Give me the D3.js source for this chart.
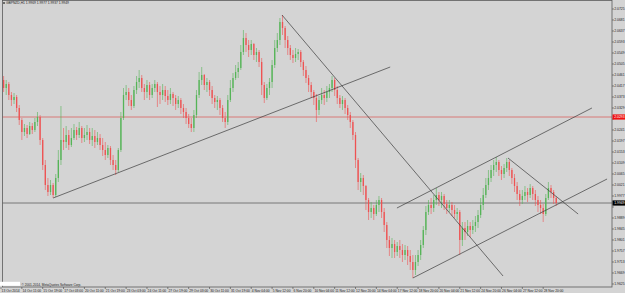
<!DOCTYPE html>
<html>
<head>
<meta charset="utf-8">
<script src="https://cdn.jsdelivr.net/npm/d3@7"></script>
<style>
html, body { margin: 0; padding: 0; background: #d4d4d4; overflow: hidden; }
svg { display: block; }
text { font-family: "Liberation Sans", Arial, sans-serif; }
</style>
</head>
<body>
<div id="chart"></div>
<script>
// GBPNZD candles, one per 4 hours (13 Oct - 1 Dec 2014)
const opens = [
  2.0473, 2.0441, 2.0409, 2.0425, 2.0381, 2.0361, 2.0373, 2.0329,
  2.0281, 2.0233, 2.0249, 2.0225, 2.0257, 2.0241, 2.0273, 2.0293,
  2.0201, 2.0101, 2.0021, 1.9993, 2.0021, 1.9981, 2.0049, 2.0121,
  2.0201, 2.0193, 2.0221, 2.0181, 2.0209, 2.0241, 2.0221, 2.0249,
  2.0209, 2.0221, 2.0233, 2.0201, 2.0217, 2.0193, 2.0209, 2.0181,
  2.0161, 2.0141, 2.0169, 2.0121, 2.0101, 2.0081, 2.0161, 2.0289,
  2.0381, 2.0393, 2.0361, 2.0337, 2.0401, 2.0433, 2.0449, 2.0409,
  2.0393, 2.0421, 2.0381, 2.0409, 2.0425, 2.0393, 2.0381, 2.0401,
  2.0377, 2.0361, 2.0385, 2.0369, 2.0345, 2.0361, 2.0329, 2.0313,
  2.0289, 2.0265, 2.0249, 2.0301, 2.0381, 2.0441, 2.0461, 2.0421,
  2.0433, 2.0401, 2.0369, 2.0353, 2.0361, 2.0329, 2.0289, 2.0273,
  2.0361, 2.0409, 2.0449, 2.0473, 2.0489, 2.0553, 2.0609, 2.0581,
  2.0561, 2.0585, 2.0541, 2.0553, 2.0513, 2.0421, 2.0369, 2.0409,
  2.0433, 2.0501, 2.0569, 2.0601, 2.0673, 2.0649, 2.0601, 2.0569,
  2.0541, 2.0529, 2.0545, 2.0553, 2.0513, 2.0481, 2.0449, 2.0421,
  2.0393, 2.0369, 2.0321, 2.0361, 2.0381, 2.0369, 2.0393, 2.0409,
  2.0441, 2.0401, 2.0369, 2.0345, 2.0361, 2.0329, 2.0301, 2.0273,
  2.0221, 2.0121, 2.0033, 2.0049, 2.0017, 1.9961, 1.9913, 1.9929,
  1.9905, 1.9941, 1.9961, 1.9913, 1.9861, 1.9801, 1.9769, 1.9785,
  1.9753, 1.9777, 1.9761, 1.9741, 1.9761, 1.9737, 1.9713, 1.9681,
  1.9713, 1.9741, 1.9781, 1.9841, 1.9913, 1.9941, 1.9929, 1.9961,
  1.9981, 1.9961, 1.9977, 1.9945, 1.9929, 1.9941, 1.9921, 1.9905,
  1.9913, 1.9801, 1.9849, 1.9833, 1.9857, 1.9841, 1.9857, 1.9873,
  1.9901, 1.9941, 1.9981, 2.0021, 2.0049, 2.0081, 2.0101, 2.0113,
  2.0081, 2.0065, 2.0089, 2.0113, 2.0081, 2.0049, 2.0017, 1.9985,
  1.9961, 1.9977, 1.9993, 1.9981, 2.0009, 1.9985, 1.9961, 1.9941,
  1.9929, 1.9905, 1.9969, 2.0009, 1.9993, 1.9969
];
const highs = [
  2.0489, 2.0457, 2.0441, 2.0433, 2.0393, 2.0389, 2.0381, 2.0341,
  2.0289, 2.0265, 2.0261, 2.0273, 2.0269, 2.0289, 2.0313, 2.0301,
  2.0209, 2.0121, 2.0049, 2.0041, 2.0029, 2.0065, 2.0161, 2.0337,
  2.0249, 2.0257, 2.0241, 2.0249, 2.0265, 2.0253, 2.0273, 2.0257,
  2.0249, 2.0261, 2.0249, 2.0249, 2.0241, 2.0233, 2.0225, 2.0209,
  2.0193, 2.0181, 2.0177, 2.0141, 2.0121, 2.0169, 2.0313, 2.0409,
  2.0421, 2.0409, 2.0381, 2.0417, 2.0457, 2.0481, 2.0461, 2.0425,
  2.0441, 2.0433, 2.0425, 2.0441, 2.0433, 2.0417, 2.0425, 2.0417,
  2.0401, 2.0409, 2.0393, 2.0381, 2.0377, 2.0369, 2.0345, 2.0329,
  2.0305, 2.0289, 2.0321, 2.0401, 2.0473, 2.0493, 2.0465, 2.0449,
  2.0441, 2.0417, 2.0381, 2.0377, 2.0369, 2.0341, 2.0313, 2.0381,
  2.0441, 2.0469, 2.0501, 2.0513, 2.0581, 2.0641, 2.0629, 2.0601,
  2.0601, 2.0589, 2.0569, 2.0561, 2.0529, 2.0433, 2.0425, 2.0449,
  2.0521, 2.0601, 2.0629, 2.0689, 2.0701, 2.0657, 2.0617, 2.0581,
  2.0561, 2.0569, 2.0565, 2.0561, 2.0521, 2.0497, 2.0461, 2.0433,
  2.0401, 2.0385, 2.0377, 2.0409, 2.0401, 2.0417, 2.0425, 2.0457,
  2.0449, 2.0417, 2.0381, 2.0377, 2.0369, 2.0341, 2.0313, 2.0281,
  2.0233, 2.0129, 2.0069, 2.0061, 2.0021, 1.9969, 1.9953, 1.9941,
  1.9961, 1.9977, 1.9969, 1.9929, 1.9873, 1.9817, 1.9809, 1.9801,
  1.9793, 1.9801, 1.9785, 1.9781, 1.9777, 1.9761, 1.9741, 1.9741,
  1.9761, 1.9801, 1.9857, 1.9937, 1.9961, 1.9969, 1.9981, 2.0009,
  1.9993, 1.9993, 1.9985, 1.9961, 1.9961, 1.9953, 1.9941, 1.9929,
  1.9921, 1.9873, 1.9873, 1.9881, 1.9873, 1.9881, 1.9897, 1.9921,
  1.9969, 2.0009, 2.0049, 2.0081, 2.0101, 2.0121, 2.0133, 2.0121,
  2.0097, 2.0105, 2.0129, 2.0121, 2.0089, 2.0065, 2.0033, 2.0001,
  2.0001, 2.0017, 2.0009, 2.0025, 2.0017, 2.0001, 1.9977, 1.9961,
  1.9945, 1.9985, 2.0033, 2.0021, 2.0001, 1.9977
];
const lows = [
  2.0425, 2.0393, 2.0381, 2.0361, 2.0337, 2.0345, 2.0313, 2.0261,
  2.0201, 2.0217, 2.0209, 2.0221, 2.0225, 2.0233, 2.0257, 2.0181,
  2.0081, 2.0001, 1.9977, 1.9981, 1.9969, 1.9973, 2.0033, 2.0101,
  2.0161, 2.0169, 2.0161, 2.0173, 2.0201, 2.0201, 2.0209, 2.0189,
  2.0193, 2.0201, 2.0185, 2.0177, 2.0169, 2.0181, 2.0161, 2.0137,
  2.0121, 2.0129, 2.0101, 2.0081, 2.0061, 2.0073, 2.0153, 2.0281,
  2.0361, 2.0337, 2.0321, 2.0329, 2.0385, 2.0409, 2.0393, 2.0361,
  2.0369, 2.0361, 2.0369, 2.0393, 2.0333, 2.0345, 2.0361, 2.0353,
  2.0341, 2.0345, 2.0337, 2.0321, 2.0329, 2.0305, 2.0289, 2.0265,
  2.0249, 2.0233, 2.0233, 2.0289, 2.0369, 2.0421, 2.0401, 2.0393,
  2.0377, 2.0345, 2.0329, 2.0321, 2.0301, 2.0273, 2.0249, 2.0261,
  2.0353, 2.0393, 2.0441, 2.0449, 2.0481, 2.0541, 2.0553, 2.0533,
  2.0541, 2.0521, 2.0513, 2.0493, 2.0381, 2.0349, 2.0361, 2.0381,
  2.0409, 2.0489, 2.0553, 2.0581, 2.0621, 2.0569, 2.0541, 2.0521,
  2.0509, 2.0513, 2.0521, 2.0493, 2.0457, 2.0429, 2.0393, 2.0369,
  2.0341, 2.0273, 2.0301, 2.0345, 2.0341, 2.0353, 2.0369, 2.0393,
  2.0377, 2.0345, 2.0329, 2.0321, 2.0305, 2.0281, 2.0249, 2.0201,
  2.0089, 2.0001, 1.9993, 1.9981, 1.9921, 1.9881, 1.9889, 1.9881,
  1.9897, 1.9913, 1.9889, 1.9833, 1.9769, 1.9737, 1.9729, 1.9729,
  1.9737, 1.9729, 1.9713, 1.9721, 1.9701, 1.9681, 1.9649, 1.9661,
  1.9697, 1.9721, 1.9769, 1.9821, 1.9901, 1.9905, 1.9913, 1.9941,
  1.9937, 1.9929, 1.9921, 1.9905, 1.9913, 1.9897, 1.9889, 1.9881,
  1.9741, 1.9777, 1.9801, 1.9817, 1.9813, 1.9825, 1.9833, 1.9849,
  1.9889, 1.9921, 1.9969, 2.0001, 2.0033, 2.0057, 2.0073, 2.0057,
  2.0041, 2.0049, 2.0073, 2.0057, 2.0025, 1.9993, 1.9961, 1.9937,
  1.9945, 1.9961, 1.9953, 1.9969, 1.9961, 1.9937, 1.9913, 1.9905,
  1.9873, 1.9897, 1.9961, 1.9969, 1.9945, 1.9937
];
const closes = [
  2.0441, 2.0409, 2.0425, 2.0381, 2.0361, 2.0373, 2.0329, 2.0281,
  2.0233, 2.0249, 2.0225, 2.0257, 2.0241, 2.0273, 2.0293, 2.0201,
  2.0101, 2.0021, 1.9993, 2.0021, 1.9981, 2.0049, 2.0121, 2.0201,
  2.0193, 2.0221, 2.0181, 2.0209, 2.0241, 2.0221, 2.0249, 2.0209,
  2.0221, 2.0233, 2.0201, 2.0217, 2.0193, 2.0209, 2.0181, 2.0161,
  2.0141, 2.0169, 2.0121, 2.0101, 2.0081, 2.0161, 2.0289, 2.0381,
  2.0393, 2.0361, 2.0337, 2.0401, 2.0433, 2.0449, 2.0409, 2.0393,
  2.0421, 2.0381, 2.0409, 2.0425, 2.0393, 2.0381, 2.0401, 2.0377,
  2.0361, 2.0385, 2.0369, 2.0345, 2.0361, 2.0329, 2.0313, 2.0289,
  2.0265, 2.0249, 2.0301, 2.0381, 2.0441, 2.0461, 2.0421, 2.0433,
  2.0401, 2.0369, 2.0353, 2.0361, 2.0329, 2.0289, 2.0273, 2.0361,
  2.0409, 2.0449, 2.0473, 2.0489, 2.0553, 2.0609, 2.0581, 2.0561,
  2.0585, 2.0541, 2.0553, 2.0513, 2.0421, 2.0369, 2.0409, 2.0433,
  2.0501, 2.0569, 2.0601, 2.0673, 2.0649, 2.0601, 2.0569, 2.0541,
  2.0529, 2.0545, 2.0553, 2.0513, 2.0481, 2.0449, 2.0421, 2.0393,
  2.0369, 2.0321, 2.0361, 2.0381, 2.0369, 2.0393, 2.0409, 2.0441,
  2.0401, 2.0369, 2.0345, 2.0361, 2.0329, 2.0301, 2.0273, 2.0221,
  2.0121, 2.0033, 2.0049, 2.0017, 1.9961, 1.9913, 1.9929, 1.9905,
  1.9941, 1.9961, 1.9913, 1.9861, 1.9801, 1.9769, 1.9785, 1.9753,
  1.9777, 1.9761, 1.9741, 1.9761, 1.9737, 1.9713, 1.9681, 1.9713,
  1.9741, 1.9781, 1.9841, 1.9913, 1.9941, 1.9929, 1.9961, 1.9981,
  1.9961, 1.9977, 1.9945, 1.9929, 1.9941, 1.9921, 1.9905, 1.9913,
  1.9801, 1.9849, 1.9833, 1.9857, 1.9841, 1.9857, 1.9873, 1.9901,
  1.9941, 1.9981, 2.0021, 2.0049, 2.0081, 2.0101, 2.0113, 2.0081,
  2.0065, 2.0089, 2.0113, 2.0081, 2.0049, 2.0017, 1.9985, 1.9961,
  1.9977, 1.9993, 1.9981, 2.0009, 1.9985, 1.9961, 1.9941, 1.9929,
  1.9905, 1.9969, 2.0009, 1.9993, 1.9969, 1.9949
];

// one time label every 8 candles (32 hours)
const timeLabels = [
  '13 Oct 2014', '14 Oct 11:00', '15 Oct 19:00', '17 Oct 03:00', '20 Oct 11:00',
  '21 Oct 19:00', '23 Oct 03:00', '24 Oct 11:00', '27 Oct 19:00', '29 Oct 03:00',
  '30 Oct 11:00', '31 Oct 19:00', '4 Nov 04:00', '5 Nov 12:00', '6 Nov 20:00',
  '10 Nov 04:00', '11 Nov 12:00', '12 Nov 20:00', '14 Nov 04:00', '17 Nov 12:00',
  '18 Nov 20:00', '20 Nov 04:00', '21 Nov 12:00', '24 Nov 20:00', '26 Nov 04:00',
  '27 Nov 12:00', '28 Nov 20:00'
];
const LABEL_EVERY = 8;

const priceTicks = [
  1.9625, 1.9669, 1.9713, 1.9757, 1.9801, 1.9845, 1.9889, 1.9933, 1.9977,
  2.0021, 2.0065, 2.0109, 2.0153, 2.0197, 2.0241, 2.0285, 2.0329, 2.0373,
  2.0417, 2.0461, 2.0505, 2.0549, 2.0593, 2.0637, 2.0681, 2.0725
];

const levelLine = 2.0293;   // red horizontal line
const bidPrice = 1.9949;    // bid line

// drawn trend lines: [candle index, price, candle index, price]
const trendLines = [
  [20, 1.9969, 149.3, 2.0493],
  [107.8, 2.0701, 192.6, 1.9657],
  [151.9, 1.9929, 226.7, 2.0329],
  [158.0, 1.9649, 232.5, 2.0045],
  [194.5, 2.0129, 221.4, 1.9905]
];

const W = 625, H = 293;
const PLOT_RIGHT = 612, PLOT_BOTTOM = 287;
const UP = '#55b457', DOWN = '#ee5252';

const svg = d3.select('#chart').append('svg')
    .attr('width', W)
    .attr('height', H);

svg.append('rect')
    .attr('width', W).attr('height', H)
    .attr('fill', '#d4d4d4');

const x = d3.scaleLinear().domain([0, 234.4]).range([1, PLOT_RIGHT]);
const y = d3.scaleLinear().domain([1.9613, 2.0761]).range([PLOT_BOTTOM, 0]);

svg.append('clipPath').attr('id', 'plot')
    .append('rect')
    .attr('x', 2.5).attr('y', 0.5)
    .attr('width', PLOT_RIGHT - 2.5).attr('height', PLOT_BOTTOM - 0.5);

const g = svg.append('g').attr('clip-path', 'url(#plot)');

// horizontal lines
g.append('line')
    .attr('x1', 0).attr('x2', PLOT_RIGHT)
    .attr('y1', y(levelLine)).attr('y2', y(levelLine))
    .attr('stroke', '#d9706e').attr('stroke-width', 0.9);

g.append('line')
    .attr('x1', 0).attr('x2', PLOT_RIGHT)
    .attr('y1', y(bidPrice)).attr('y2', y(bidPrice))
    .attr('stroke', '#6e6e6e').attr('stroke-width', 0.9);

// candles
const bars = closes.map((c, i) => ({ i, o: opens[i], h: highs[i], l: lows[i], c }));

g.selectAll('.wick')
    .data(bars)
    .enter().append('line')
    .attr('class', 'wick')
    .attr('x1', d => x(d.i)).attr('x2', d => x(d.i))
    .attr('y1', d => y(d.h)).attr('y2', d => y(d.l))
    .attr('stroke', d => d.c >= d.o ? UP : DOWN)
    .attr('stroke-width', 0.6);

g.selectAll('.body')
    .data(bars)
    .enter().append('rect')
    .attr('class', 'body')
    .attr('x', d => x(d.i) - 0.65)
    .attr('width', 1.3)
    .attr('y', d => y(Math.max(d.o, d.c)))
    .attr('height', d => Math.max(0.6, Math.abs(y(d.o) - y(d.c))))
    .attr('fill', d => d.c >= d.o ? UP : DOWN);

// trend lines
g.selectAll('.trend')
    .data(trendLines)
    .enter().append('line')
    .attr('class', 'trend')
    .attr('x1', d => x(d[0])).attr('y1', d => y(d[1]))
    .attr('x2', d => x(d[2])).attr('y2', d => y(d[3]))
    .attr('stroke', '#3c3c3c')
    .attr('stroke-width', 0.7);

// frame
svg.append('rect')
    .attr('x', 2.5).attr('y', 0.5)
    .attr('width', PLOT_RIGHT - 2.5).attr('height', PLOT_BOTTOM - 0.5)
    .attr('fill', 'none')
    .attr('stroke', '#5a5a5a')
    .attr('stroke-width', 0.8);

// price axis, labels hidden where a price tag sits on top of them
const pa = svg.append('g');
const tagged = [levelLine, bidPrice];
const freeTicks = priceTicks.filter(p => tagged.every(t => Math.abs(y(p) - y(t)) > 5.6));

pa.selectAll('.ptick')
    .data(priceTicks)
    .enter().append('line')
    .attr('x1', PLOT_RIGHT).attr('x2', PLOT_RIGHT + 2)
    .attr('y1', d => y(d)).attr('y2', d => y(d))
    .attr('stroke', '#444').attr('stroke-width', 0.6);

pa.selectAll('.plabel')
    .data(freeTicks)
    .enter().append('text')
    .attr('x', PLOT_RIGHT + 2.2)
    .attr('y', d => y(d) + 1.2)
    .attr('font-size', '3.4px')
    .attr('fill', '#222')
    .text(d => d.toFixed(4));

function priceTag(value, fill) {
    pa.append('rect')
        .attr('x', PLOT_RIGHT + 0.5).attr('y', y(value) - 2.6)
        .attr('width', W - PLOT_RIGHT - 0.5).attr('height', 5.2)
        .attr('fill', fill);
    pa.append('text')
        .attr('x', PLOT_RIGHT + 2.2).attr('y', y(value) + 1.2)
        .attr('font-size', '3.4px')
        .attr('fill', '#fff')
        .text(value.toFixed(4));
}
priceTag(levelLine, '#f01010');
priceTag(bidPrice, '#000');

// time axis
const ta = svg.append('g');
ta.selectAll('.ttick')
    .data(timeLabels)
    .enter().append('line')
    .attr('x1', (d, k) => x(k * LABEL_EVERY)).attr('x2', (d, k) => x(k * LABEL_EVERY))
    .attr('y1', PLOT_BOTTOM).attr('y2', PLOT_BOTTOM + 2)
    .attr('stroke', '#444').attr('stroke-width', 0.6);

ta.selectAll('.tlabel')
    .data(timeLabels)
    .enter().append('text')
    .attr('x', (d, k) => x(k * LABEL_EVERY) + 0.6)
    .attr('y', PLOT_BOTTOM + 4.8)
    .attr('font-size', '3.3px')
    .attr('fill', '#222')
    .text(d => d);

// header
const last = bars[bars.length - 1];
svg.append('rect')
    .attr('x', 3.2).attr('y', 2.2).attr('width', 1.6).attr('height', 1.6)
    .attr('fill', '#333');
svg.append('text')
    .attr('x', 6).attr('y', 4.4)
    .attr('font-size', '3.3px')
    .attr('fill', '#222')
    .text(`GBPNZD,H1  ${last.o.toFixed(4)} ${last.h.toFixed(4)} ${last.l.toFixed(4)} ${last.c.toFixed(4)}`);

// copyright
svg.append('rect')
    .attr('x', 0).attr('y', 281.8).attr('width', 20).attr('height', 4)
    .attr('fill', '#fff');
svg.append('text')
    .attr('x', 21.5).attr('y', 285.6)
    .attr('font-size', '3.2px')
    .attr('fill', '#222')
    .text('© 2001-2014, MetaQuotes Software Corp.');
</script>
</body>
</html>
